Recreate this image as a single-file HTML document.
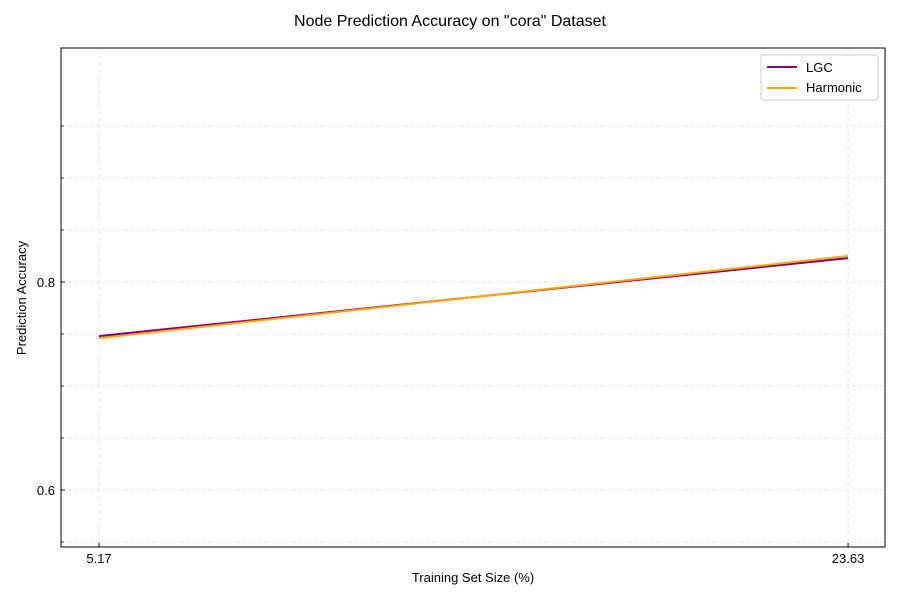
<!DOCTYPE html>
<html><head><meta charset="utf-8"><style>
body{margin:0;background:#fff;font-family:"Liberation Sans","DejaVu Sans",sans-serif;}
svg text{font-family:"Liberation Sans","DejaVu Sans",sans-serif;}
</style></head><body>
<svg id="chart" width="900" height="600" xmlns="http://www.w3.org/2000/svg">
<rect width="900" height="600" fill="#fff"/>
<text x="450" y="26" text-anchor="middle" font-size="16">Node Prediction Accuracy on "cora" Dataset</text>
<g id="grid"></g>
<g id="ticks"></g>
<g id="series"></g>
<rect x="61" y="48" width="824" height="499" fill="none" stroke="#000" stroke-width="1"/>
<text x="473" y="582" text-anchor="middle" font-size="13">Training Set Size (%)</text>
<text transform="translate(26,298) rotate(-90)" text-anchor="middle" font-size="13">Prediction Accuracy</text>
<g>
<rect x="761" y="55" width="117" height="45" rx="3" fill="#fff" stroke="#ccc"/>
<line x1="767" y1="67" x2="797" y2="67" stroke="#800080" stroke-width="2"/>
<text x="806" y="72" font-size="13">LGC</text>
<line x1="767" y1="88" x2="797" y2="88" stroke="#FFA500" stroke-width="2"/>
<text x="806" y="92" font-size="13">Harmonic</text>
</g>
</svg>
<script>
const xValues=[5.17,23.63];
const xTickLabels=["5.17","23.63"];
const lgcValues=[0.748,0.823];
const harmonicValues=[0.746,0.825];
const yMajorTicks=[0.6,0.8];
const yMinorTicks=[0.55,0.65,0.7,0.75,0.85,0.9,0.95];
const NS="http://www.w3.org/2000/svg";
const L=61,R=885,T=48,B=547;
const xMin=4.233,xMax=24.54,yMin=0.5452,yMax=1.025;
const sx=v=>L+(v-xMin)/(xMax-xMin)*(R-L);
const sy=v=>B-(v-yMin)/(yMax-yMin)*(B-T);
function mk(tag,attrs,parent){const e=document.createElementNS(NS,tag);for(const k in attrs)e.setAttribute(k,attrs[k]);document.getElementById(parent).appendChild(e);return e;}
[...yMajorTicks,...yMinorTicks].forEach(v=>{
 const g=mk('line',{x1:L,x2:R,y1:sy(v),y2:sy(v),stroke:'#ddd','stroke-dasharray':'4,3','stroke-width':0.8},'grid');
 
 
 const major=yMajorTicks.includes(v);
 const t=mk('line',{x1:L,x2:L+(major?4:2.5),y1:sy(v),y2:sy(v),stroke:'#000'},'ticks');
 
 
 if(major){const lb=mk('text',{x:L-6,y:sy(v)+5,'text-anchor':'end','font-size':13},'ticks');lb.textContent=String(v);
 
 }
});
xValues.forEach((v,i)=>{
 const g=mk('line',{x1:sx(v),x2:sx(v),y1:T,y2:B,stroke:'#ddd','stroke-dasharray':'4,3','stroke-width':0.8},'grid');
 
 
 const t=mk('line',{x1:sx(v),x2:sx(v),y1:B,y2:B-4,stroke:'#000'},'ticks');
 
 
 const lb=mk('text',{x:sx(v),y:B+16,'text-anchor':'middle','font-size':13},'ticks');lb.textContent=xTickLabels[i];
 
 
});
function line(vals,color,name){
 const p=mk('polyline',{points:vals.map((v,i)=>sx(xValues[i])+','+sy(v)).join(' '),fill:'none',stroke:color,'stroke-width':2},'series');
 
 
}
line(lgcValues,'#800080','lgc-line');
line(harmonicValues,'#FFA500','harmonic-line');
</script>
</body></html>
